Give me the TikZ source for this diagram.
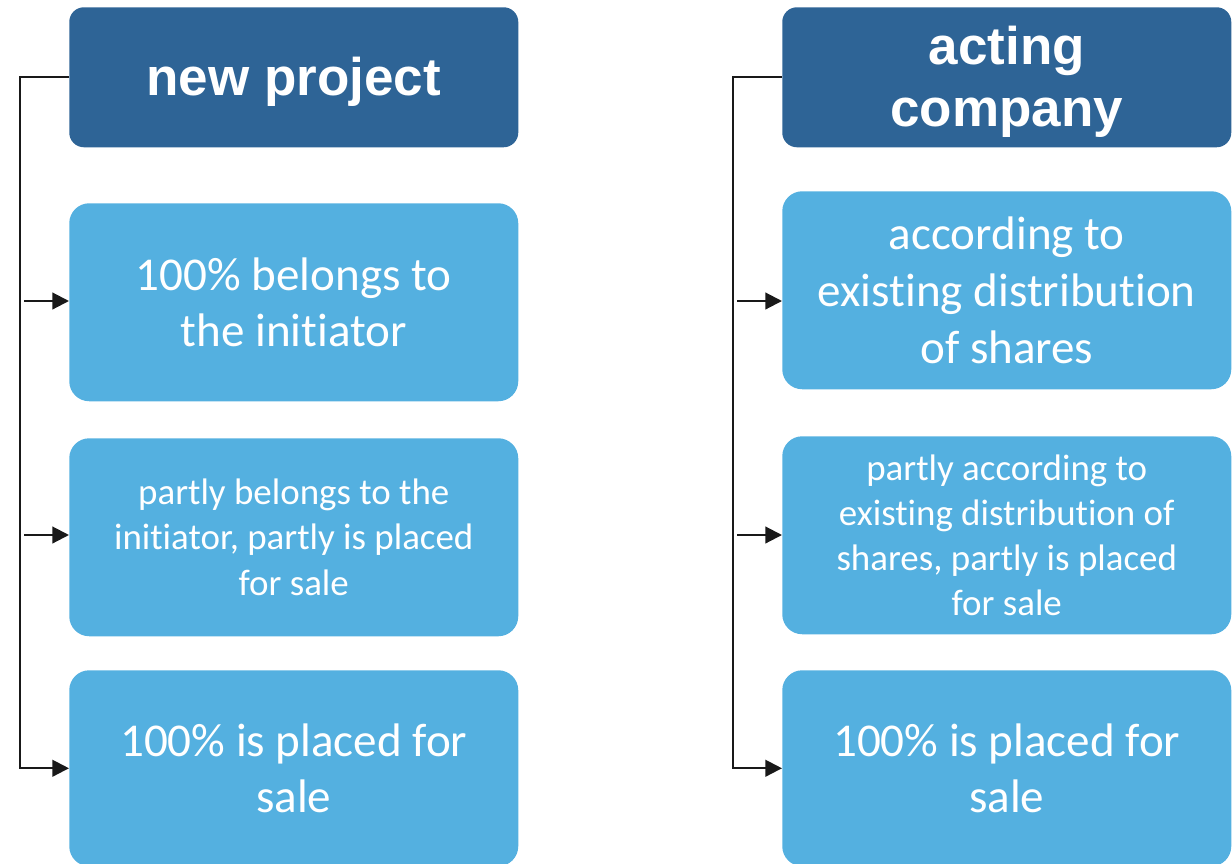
\documentclass[tikz,border=0pt]{standalone}
\usepackage{fontspec}
\setmainfont{Carlito}[RawFeature={-liga;-clig;-rlig;-dlig;-calt}]
\newfontfamily\headfont{Liberation Sans}
\usetikzlibrary{arrows.meta}
\definecolor{darkblue}{RGB}{46,100,150}
\definecolor{lightblue}{RGB}{84,176,224}
\newcommand{\headtext}[1]{\raisebox{-4.5pt}[\height][\depth]{\begin{tabular}{@{}c@{}}#1\end{tabular}}}
\newcommand{\tiNL}{t\kern0pt i}
\begin{document}
\begin{tikzpicture}[x=0.75pt,y=-0.75pt,
  head/.style={fill=darkblue, rounded corners=11pt, minimum width=336.75pt, minimum height=105pt, inner sep=0pt, text=white, font=\headfont\bfseries\fontsize{39.75}{46.5}\selectfont, align=center, anchor=north west},
  item/.style={fill=lightblue, rounded corners=15pt, minimum width=336.75pt, minimum height=148.5pt, inner sep=0pt, text=white, align=center, anchor=north west},
  big/.style={font=\fontsize{35.3}{42.5}\selectfont},
  small/.style={font=\fontsize{27.7}{33.8}\selectfont},
  conn/.style={line width=1.6pt, draw=black!90},
  arr/.style={conn, -{Triangle[length=12.5pt,width=12.5pt]}}]
\useasboundingbox (0,0) rectangle (1232,864);
\clip (0,0) rectangle (1232,864);
% left column
\node[head] (h1) at (69,7) {\headtext{new project}};
\node[item,big] (a1) at (69,203) {100\% belongs to\\the ini\tiNL ator};
\node[item,small] (a2) at (69,438) {partly belongs to the\\ini\tiNL ator, partly is placed\\for sale};
\node[item,big, minimum height=147pt] (a3) at (69,670) {100\% is placed for\\sale};
% right column
\node[head] (h2) at (782,7) {\headtext{acting\\company}};
\node[item,big] (b1) at (782,191) {according to\\existing distribu\tiNL on\\of shares};
\node[item,small] (b2) at (782,436) {partly according to\\existing distribu\tiNL on of\\shares, partly is placed\\for sale};
\node[item,big, minimum height=147pt] (b3) at (782,670) {100\% is placed for\\sale};
% connector coordinates
\coordinate (sl) at (24,301);
\coordinate (sl2) at (24,535);
\coordinate (sr) at (737,301);
\coordinate (sr2) at (737,535);
% left connectors
\draw[arr] (h1.west) -- ++(-49,0) |- (a3.west);
\draw[arr] (sl) -- (a1.west |- sl);
\draw[arr] (sl2) -- (a2.west |- sl2);
% right connectors
\draw[arr] (h2.west) -- ++(-49,0) |- (b3.west);
\draw[arr] (sr) -- (b1.west |- sr);
\draw[arr] (sr2) -- (b2.west |- sr2);
\end{tikzpicture}
\end{document}
